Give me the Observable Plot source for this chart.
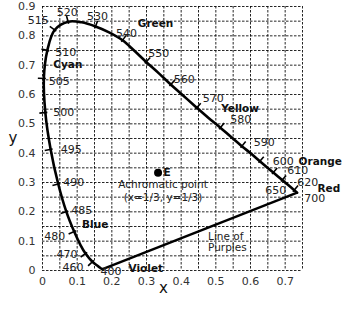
<!DOCTYPE html>
<html><head><meta charset="utf-8">
<script src="https://cdn.jsdelivr.net/npm/d3@7"></script>
<script src="https://cdn.jsdelivr.net/npm/@observablehq/plot@0.6"></script>
<style>body{margin:0;background:#fff}#chart{width:348px;height:315px}</style>
</head><body><div id="chart"></div>
<script>
// Spectral locus (nm) and chromaticity coordinates
const wavelengths = [400,410,420,430,440,450,460,470,475,480,485,490,495,500,505,510,515,520,525,530,535,540,545,550,555,560,565,570,575,580,585,590,595,600,605,610,620,630,640,650,700];
const locusX = [0.1733,0.1726,0.1714,0.1689,0.1644,0.1566,0.1440,0.1241,0.1096,0.0913,0.0687,0.0454,0.0235,0.0082,0.0039,0.0139,0.0350,0.0740,0.1130,0.1530,0.1920,0.2310,0.2650,0.2990,0.3350,0.3700,0.4080,0.4450,0.4790,0.5130,0.5450,0.5750,0.6030,0.6270,0.6482,0.6658,0.6915,0.7079,0.7190,0.7260,0.7347];
const locusY = [0.0048,0.0048,0.0051,0.0069,0.0109,0.0177,0.0297,0.0578,0.0868,0.1327,0.2007,0.2950,0.4127,0.5384,0.6548,0.7502,0.8200,0.8480,0.8460,0.8320,0.8120,0.7850,0.7490,0.7110,0.6730,0.6340,0.5940,0.5550,0.5200,0.4870,0.4540,0.4240,0.3970,0.3725,0.3514,0.3340,0.3083,0.2920,0.2809,0.2740,0.2653];
const labeledWavelengths = [400,460,470,480,485,490,495,500,505,510,515,520,530,540,550,560,570,580,590,600,610,620,650,700];
const tickedWavelengths = [460,470,480,485,490,495,500,505,510,515,520,530,540,550,560,570,580,590,600,610,620,650];
const xTickValues = [0,0.1,0.2,0.3,0.4,0.5,0.6,0.7];
const yTickValues = [0,0.1,0.2,0.3,0.4,0.5,0.6,0.7,0.8,0.9];
const xGridValues = [0,0.05,0.1,0.15,0.2,0.25,0.3,0.35,0.4,0.45,0.5,0.55,0.6,0.65,0.7,0.75];
const yGridValues = [0,0.05,0.1,0.15,0.2,0.25,0.3,0.35,0.4,0.45,0.5,0.55,0.6,0.65,0.7,0.75,0.8,0.85,0.9];
const colorNames = ["Green","Cyan","Yellow","Orange","Red","Blue","Violet"];
const colorNameX = [0.326,0.073,0.570,0.801,0.826,0.152,0.298];
const colorNameY = [0.841,0.702,0.552,0.371,0.279,0.157,0.007];
const whitePointX = [1/3];
const whitePointY = [1/3];

// layout
const W = 348, H = 315, mL = 42, mR = 46, mT = 6, mB = 45;
const kx = (W - mL - mR) / 0.75, ky = (H - mT - mB) / 0.9;

const locus = wavelengths.map((w, i) => ({w, x: locusX[i], y: locusY[i]}));
const byW = new Map(locus.map(d => [d.w, d]));
function normalAt(w) {
  const i = wavelengths.indexOf(w);
  const a = locus[Math.max(0, i - 1)], b = locus[Math.min(locus.length - 1, i + 1)];
  const dx = (b.x - a.x) * kx, dy = (b.y - a.y) * ky;
  const L = Math.hypot(dx, dy);
  return [-dy / L, dx / L];
}
const ticks = tickedWavelengths.map(w => {
  const p = byW.get(w), [nx, ny] = normalAt(w);
  return {x1: p.x - nx * 2 / kx, y1: p.y - ny * 2 / ky, x2: p.x + nx * 6 / kx, y2: p.y + ny * 6 / ky};
});
// label placement: anchor, pixel offsets (dx right, dy down)
const placement = {
  400:["start",-2,2], 460:["end",-9,6], 470:["end",-8,1], 480:["end",-9,5], 485:["start",5,-1],
  490:["start",5,-1], 495:["start",10,0], 500:["start",8,0], 505:["start",5,3], 510:["start",8,2],
  515:["end",-6,-9], 520:["middle",-1,-9], 530:["middle",2,-10], 540:["middle",4,-7], 550:["start",2,-8],
  560:["start",3,-5], 570:["start",6,-9], 580:["start",10,-8], 590:["start",12,-4], 600:["start",13,0],
  610:["start",14,-2], 620:["start",15,2], 650:["end",-8,0], 700:["start",7,6]
};
const wlLabels = labeledWavelengths.map(w => {
  const p = byW.get(w), [a, dx, dy] = placement[w];
  return {text: String(w), anchor: a, x: p.x + dx / kx, y: p.y - dy / ky};
});
const names = colorNames.map((t, i) => ({text: t, x: colorNameX[i], y: colorNameY[i]}));
const white = whitePointX.map((x, i) => ({x, y: whitePointY[i]}));
const p400 = byW.get(400), p700 = byW.get(700);

const font = "DejaVu Sans";
const ink = "#111";
const plot = Plot.plot({
  width: W, height: H,
  marginLeft: mL, marginRight: mR, marginTop: mT, marginBottom: mB,
  x: {domain: [0, 0.75]},
  y: {domain: [0, 0.9]},
  style: {fontFamily: font, fontSize: "11px", background: "#fff", overflow: "visible", color: ink},
  marks: [
    Plot.gridX(xGridValues, {stroke: "#000", strokeOpacity: 0.85, strokeWidth: 1, strokeDasharray: "2.5,1.5"}),
    Plot.gridY(yGridValues, {stroke: "#000", strokeOpacity: 0.85, strokeWidth: 1, strokeDasharray: "2.5,1.5"}),
    Plot.axisX(xTickValues, {tickSize: 0, tickPadding: 7, fontSize: 11, fill: "#333", label: null,
      tickFormat: d => d === 0 ? "0" : d.toFixed(1)}),
    Plot.axisY(yTickValues, {tickSize: 0, tickPadding: 7, fontSize: 11, fill: "#333", label: null,
      tickFormat: d => d === 0 ? "0" : d.toFixed(1)}),
    Plot.text(["x"], {frameAnchor: "bottom", dx: -9, dy: 22, fontSize: 15, fill: ink}),
    Plot.text(["y"], {frameAnchor: "left", dx: -34, dy: 0, fontSize: 15, fill: ink}),
    Plot.line(locus, {x: "x", y: "y", curve: "catmull-rom", stroke: "#000", strokeWidth: 2.6}),
    Plot.link([{x1: p400.x, y1: p400.y, x2: p700.x, y2: p700.y}], {x1: "x1", y1: "y1", x2: "x2", y2: "y2", stroke: "#000", strokeWidth: 2.4}),
    Plot.link(ticks, {x1: "x1", y1: "y1", x2: "x2", y2: "y2", stroke: "#000", strokeWidth: 1.6}),
    ...["start", "middle", "end"].map(a => Plot.text(wlLabels.filter(d => d.anchor === a),
      {x: "x", y: "y", text: "text", textAnchor: a, fontSize: 11, fill: "#222"})),
    Plot.text(names, {x: "x", y: "y", text: "text", fontSize: 10.5, fontWeight: "bold", fill: ink}),
    Plot.dot(white, {x: "x", y: "y", r: 4, fill: "#000"}),
    Plot.text(white, {x: "x", y: "y", text: () => "E", dx: 9, fontSize: 11, fontWeight: "bold", fill: ink}),
    Plot.text(white, {x: "x", y: "y", text: () => "Achromatic point", dx: 5, dy: 12, fontSize: 10.5, fill: "#222"}),
    Plot.text(white, {x: "x", y: "y", text: () => "(x=1/3, y=1/3)", dx: 5, dy: 25, fontSize: 10.5, fill: "#222"}),
    Plot.text(white, {x: "x", y: "y", text: () => "Line of\nPurples", dx: 50, dy: 69, textAnchor: "start", lineHeight: 1.1, fontSize: 10.5, fill: "#222"})
  ]
});
document.getElementById("chart").appendChild(plot);
</script>
</body></html>
